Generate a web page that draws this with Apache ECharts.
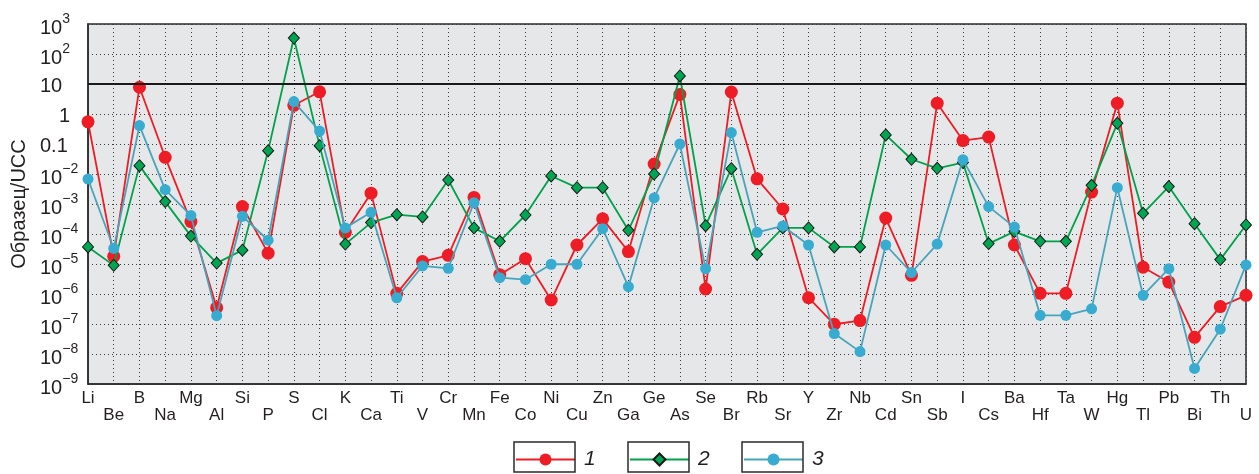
<!DOCTYPE html>
<html>
<head>
<meta charset="utf-8">
<script src="https://cdn.jsdelivr.net/npm/echarts@6/dist/echarts.min.js"></script>
<style>
html,body{margin:0;padding:0;background:#fff;}
#chart{width:1259px;height:474px;}
</style>
</head>
<body>
<div id="chart"></div>
<script>
const categories = ['Li','Be','B','Na','Mg','Al','Si','P','S','Cl','K','Ca','Ti','V','Cr','Mn','Fe','Co','Ni','Cu','Zn','Ga','Ge','As','Se','Br','Rb','Sr','Y','Zr','Nb','Cd','Sn','Sb','I','Cs','Ba','Hf','Ta','W','Hg','Tl','Pb','Bi','Th','U'];

const series1 = [0.55,1.8e-5,7.8,0.036,2.6e-4,3.5e-7,8.2e-4,2.3e-5,1.95,5.5,1.14e-4,2.3e-3,1.05e-6,1.2e-5,1.95e-5,1.66e-3,4.4e-6,1.5e-5,6.3e-7,4.3e-5,3.2e-4,2.6e-5,0.0215,4.5,1.47e-6,5.4,6.9e-3,6.8e-4,7.5e-7,9.8e-8,1.3e-7,3.4e-4,4.2e-6,2.3,0.13,0.17,4.3e-5,1.05e-6,1.05e-6,2.5e-3,2.3,7.8e-6,2.5e-6,3.6e-8,3.8e-7,9e-7];

const series2 = [3.7e-5,9e-6,0.019,1.2e-3,8.5e-5,1.07e-5,2.9e-5,0.06,340,0.088,4.6e-5,2.4e-4,4.4e-4,3.7e-4,6.3e-3,1.6e-4,5.7e-5,4.3e-4,8.6e-3,3.5e-3,3.5e-3,1.33e-4,0.01,18.5,1.9e-4,0.015,2.1e-5,1.6e-4,1.6e-4,3.7e-5,3.7e-5,0.2,0.031,0.0155,0.024,4.8e-5,1.2e-4,5.7e-5,5.7e-5,4.2e-3,0.49,4.9e-4,3.8e-3,2.2e-4,1.4e-5,2e-4];

const series3 = [6.8e-3,3.3e-5,0.41,3e-3,4.1e-4,1.9e-7,3.9e-4,6.2e-5,2.6,0.27,1.6e-4,5.3e-4,7.5e-7,8.6e-6,7.2e-6,1.1e-3,3.5e-6,3e-6,9.8e-6,9.8e-6,1.5e-4,1.75e-6,1.6e-3,0.1,7e-6,0.24,1.14e-4,1.85e-4,4.3e-5,4.8e-8,1.2e-8,4.3e-5,5.2e-6,4.6e-5,0.03,8.2e-4,1.7e-4,1.95e-7,1.95e-7,3.2e-7,3.5e-3,9e-7,7e-6,3.3e-9,6.7e-8,9.3e-6];

const seriesNames = ['1','2','3'];
const yTickLabels = {'-9':'10^-9','-8':'10^-8','-7':'10^-7','-6':'10^-6','-5':'10^-5','-4':'10^-4','-3':'10^-3','-2':'10^-2','-1':'0.1','0':'1','1':'10','2':'10^2','3':'10^3'};
const thresholdValue = 10;

const FONT = '"Liberation Sans", Arial, Helvetica, sans-serif';
const TXT = '#231f20';

const chart = echarts.init(document.getElementById('chart'));

function yFmt(v){
  const e = Math.round(Math.log10(v));
  const s = yTickLabels[String(e)];
  if (!s) return '';
  if (s.indexOf('^') >= 0) {
    const p = s.split('^');
    return '{g|\u200b}{e|' + p[0] + '}{s|' + p[1].replace('-', '\u2212') + '}';
  }
  if (s === '1') return '{one|1}';
  return '{b|' + s + '}';
}

const legendLefts = [514, 628, 742];

chart.setOption({
  animation: false,
  backgroundColor: '#ffffff',
  textStyle: { fontFamily: FONT },
  grid: {
    left: 88, right: 13, top: 24, bottom: 90,
    show: true, backgroundColor: '#e6e7e9', borderColor: '#2b2b2b', borderWidth: 1.5
  },
  legend: seriesNames.map((n, i) => ({
    data: [n],
    left: legendLefts[i] + 1,
    top: 449,
    padding: 0,
    itemWidth: 59,
    itemHeight: 15,
    itemGap: 0,
    selectedMode: false,
    textStyle: { fontFamily: FONT, fontSize: 21, fontStyle: 'italic', color: TXT, padding: [0,0,0,4] }
  })),
  graphic: legendLefts.map(x => ({
    type: 'rect',
    shape: { x: x, y: 442, width: 61, height: 30 },
    style: { fill: 'none', stroke: '#2b2b2b', lineWidth: 1.5 },
    z: 100
  })),
  xAxis: {
    type: 'category',
    data: categories,
    boundaryGap: false,
    axisLine: { show: true, lineStyle: { color: '#2b2b2b', width: 1.5 } },
    axisTick: { show: false },
    axisLabel: {
      interval: 0, margin: 6, fontSize: 17, color: TXT, lineHeight: 17, fontFamily: FONT,
      formatter: (v, i) => (i % 2 === 1 ? '\n' + v : v)
    },
    splitLine: { show: true, interval: 0, lineStyle: { color: '#3a3a3a', type: [1, 3], width: 1 } }
  },
  yAxis: {
    type: 'log',
    logBase: 10,
    min: 1e-9,
    max: 1e3,
    interval: 1,
    splitNumber: 12,
    name: 'Образец/UCC',
    nameLocation: 'middle',
    nameGap: 53,
    nameRotate: 90,
    nameTextStyle: { fontSize: 20, color: TXT, fontFamily: FONT },
    axisLine: { show: true, lineStyle: { color: '#2b2b2b', width: 1.5 } },
    axisTick: { show: false },
    axisLabel: {
      margin: 48, align: 'left', color: TXT, fontFamily: FONT,
      showMinLabel: true, showMaxLabel: true,
      formatter: yFmt,
      rich: {
        g: { fontSize: 2, lineHeight: 29 },
        e: { fontSize: 20, lineHeight: 20, verticalAlign: 'bottom', color: TXT, fontFamily: FONT },
        s: { fontSize: 14, lineHeight: 16, verticalAlign: 'top', color: TXT, fontFamily: FONT, padding: [3,0,0,0] },
        b: { fontSize: 20, lineHeight: 22, color: TXT, fontFamily: FONT, padding: [4,0,0,0] },
        one: { fontSize: 20, lineHeight: 22, color: TXT, fontFamily: FONT, padding: [4,0,0,19] }
      }
    },
    splitLine: { show: true, lineStyle: { color: '#3a3a3a', type: [1, 3], width: 1 } }
  },
  series: [
    {
      name: seriesNames[0], type: 'line', data: series1, z: 2,
      symbol: 'circle', symbolSize: 13,
      lineStyle: { color: '#ee1c25', width: 1.8 },
      itemStyle: { color: '#ee1c25' },
      markLine: {
        silent: true, symbol: 'none', label: { show: false },
        lineStyle: { color: '#1a1a1a', width: 2, type: 'solid' },
        data: [{ yAxis: thresholdValue }]
      }
    },
    {
      name: seriesNames[1], type: 'line', data: series2, z: 3,
      symbol: 'diamond', symbolSize: [11, 12],
      lineStyle: { color: '#00a14b', width: 1.8 },
      itemStyle: { color: '#00a651', borderColor: '#1a1a1a', borderWidth: 1 }
    },
    {
      name: seriesNames[2], type: 'line', data: series3, z: 4,
      symbol: 'circle', symbolSize: 11,
      lineStyle: { color: '#48a4bb', width: 1.8 },
      itemStyle: { color: '#38acd0' }
    }
  ]
});
</script>
</body>
</html>
